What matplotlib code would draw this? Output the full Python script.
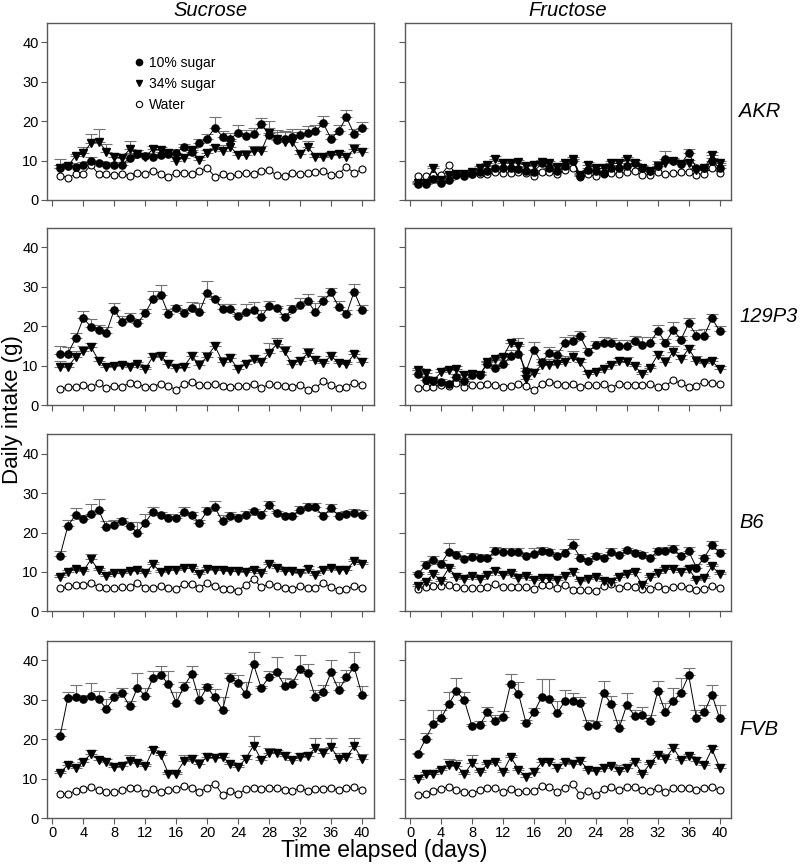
import matplotlib.pyplot as plt
from matplotlib.lines import Line2D

plt.rcParams['font.family'] = ['Liberation Sans', 'DejaVu Sans']

days = list(range(1, 41))
strains = ['AKR', '129P3', 'B6', 'FVB']
sugars = ['Sucrose', 'Fructose']
series_labels = ['10% sugar', '34% sugar', 'Water']
y_ticks = [0, 10, 20, 30, 40]
x_ticks = [0, 4, 8, 12, 16, 20, 24, 28, 32, 36, 40]

# ---- Sucrose / AKR
suc_akr_10 = [8.2, 8.5, 8.3, 8.8, 9.9, 9.3, 8.9, 8.9, 9.0, 10.6, 11.7, 11.2, 10.8, 11.4, 11.7, 12.0, 13.5, 12.1, 14.4, 15.6,
              18.3, 16.1, 15.5, 17.1, 16.3, 16.7, 19.3, 16.5, 15.2, 15.6, 16.1, 16.5, 17.1, 17.4, 19.5, 15.6, 17.5, 21.0, 16.7, 18.2]
suc_akr_10_err = [0.8, 0.8, 0.7, 0.8, 1.0, 0.6, 0.6, 0.8, 0.6, 1.2, 1.0, 0.8, 0.8, 0.8, 0.9, 0.9, 0.8, 1.2, 1.0, 1.2,
                  2.7, 1.4, 1.5, 1.9, 1.5, 1.5, 1.5, 1.8, 2.0, 1.8, 1.8, 1.6, 1.6, 1.6, 1.8, 1.2, 1.5, 1.8, 1.2, 1.5]
suc_akr_34 = [8.2, 8.5, 11.2, 11.8, 14.5, 14.8, 12.3, 11.0, 10.6, 12.9, 11.7, 11.0, 12.9, 12.7, 11.8, 10.0, 10.7, 12.7, 10.1, 11.8,
              13.2, 12.5, 13.5, 11.4, 11.4, 12.5, 12.4, 17.1, 15.5, 14.8, 14.8, 11.7, 13.5, 11.0, 10.8, 11.4, 11.7, 11.0, 12.9, 12.1]
suc_akr_34_err = [2.3, 0.8, 0.5, 1.7, 2.3, 3.3, 2.0, 1.0, 1.0, 2.0, 1.0, 1.0, 0.8, 0.8, 0.8, 0.8, 0.8, 0.8, 0.8, 0.8,
                  0.8, 1.5, 1.5, 0.8, 1.2, 1.2, 1.2, 3.0, 2.2, 2.5, 2.5, 1.0, 1.5, 0.6, 0.6, 0.8, 0.8, 0.8, 1.2, 1.2]
suc_akr_w = [6.2, 5.7, 6.5, 6.6, 8.9, 6.5, 6.5, 6.4, 6.6, 6.2, 6.9, 6.7, 7.4, 6.7, 5.9, 6.9, 6.9, 6.5, 7.3, 8.2,
             5.9, 6.5, 6.0, 6.5, 6.8, 6.7, 7.4, 7.6, 6.3, 6.2, 6.9, 6.5, 6.8, 7.2, 7.3, 6.3, 6.7, 8.4, 6.8, 7.8]

# ---- Fructose / AKR
fru_akr_10 = [4.1, 4.1, 5.3, 4.2, 5.1, 6.3, 6.2, 6.6, 7.2, 7.4, 8.0, 8.0, 8.0, 7.8, 7.4, 7.2, 9.3, 8.0, 7.4, 8.5,
              10.0, 6.1, 7.6, 7.4, 6.8, 8.0, 8.0, 8.7, 9.3, 8.2, 7.4, 8.7, 10.3, 9.9, 9.1, 12.0, 8.0, 8.0, 9.9, 8.2]
fru_akr_10_err = [0.4, 0.4, 0.5, 0.4, 0.5, 0.5, 0.5, 0.5, 0.5, 0.6, 0.6, 0.6, 0.6, 0.6, 0.5, 0.5, 0.8, 0.6, 0.5, 0.6,
                  0.5, 0.5, 0.6, 0.6, 0.5, 0.8, 0.6, 0.6, 0.8, 0.6, 0.5, 1.2, 2.2, 0.6, 0.6, 1.0, 0.6, 0.5, 0.8, 0.6]
fru_akr_34 = [4.4, 4.3, 8.0, 5.0, 6.3, 6.6, 6.6, 7.2, 8.0, 8.9, 10.3, 9.3, 9.5, 9.6, 8.6, 9.0, 9.6, 9.3, 8.3, 9.3,
              10.3, 6.3, 9.0, 8.0, 8.0, 9.3, 9.3, 10.3, 9.5, 8.0, 7.4, 8.5, 9.3, 10.0, 9.1, 9.5, 7.6, 8.0, 11.4, 9.3]
fru_akr_34_err = [0.3, 0.3, 0.6, 0.5, 0.5, 0.5, 0.5, 0.5, 0.5, 0.6, 0.8, 0.6, 0.6, 0.6, 0.6, 0.6, 0.6, 0.6, 0.5, 0.6,
                  0.6, 0.5, 0.6, 0.6, 0.6, 0.6, 0.6, 0.6, 0.6, 0.5, 0.5, 0.6, 0.6, 0.6, 0.6, 0.6, 0.5, 0.5, 0.8, 0.6]
fru_akr_w = [6.1, 6.0, 6.4, 6.3, 8.9, 6.4, 6.5, 6.5, 6.6, 6.5, 7.0, 6.8, 6.9, 7.2, 6.8, 6.0, 7.0, 7.0, 6.5, 7.5,
             8.2, 5.8, 6.5, 6.0, 6.5, 6.8, 6.5, 7.2, 7.3, 6.3, 6.3, 7.1, 6.5, 6.9, 7.1, 7.2, 6.4, 6.7, 8.1, 6.8]

# ---- Sucrose / 129P3
suc_129_10 = [13.0, 13.0, 16.9, 22.0, 19.9, 19.1, 18.4, 24.2, 21.2, 22.2, 20.8, 23.3, 26.9, 28.0, 23.1, 24.6, 23.3, 24.7, 23.6, 28.5,
              26.9, 24.4, 24.4, 22.6, 23.6, 24.2, 22.3, 25.2, 24.7, 22.3, 24.3, 25.4, 26.3, 23.6, 26.3, 28.6, 25.0, 23.1, 28.8, 24.1]
suc_129_10_err = [2.0, 1.7, 1.4, 1.8, 2.0, 1.2, 1.4, 1.8, 1.5, 1.2, 1.0, 1.0, 2.0, 2.4, 1.2, 0.8, 1.0, 1.4, 2.2, 3.0,
                  0.5, 1.2, 1.2, 0.5, 2.0, 2.0, 1.8, 1.2, 0.5, 0.8, 1.2, 1.8, 2.0, 2.2, 1.5, 1.0, 1.5, 1.0, 2.0, 1.2]
suc_129_34 = [9.7, 9.7, 12.1, 13.6, 14.8, 11.2, 9.7, 9.9, 10.2, 9.7, 10.4, 9.1, 12.3, 12.5, 10.4, 9.3, 9.7, 12.5, 10.2, 12.3,
              15.0, 11.0, 11.9, 9.1, 10.4, 11.6, 10.8, 13.3, 15.4, 13.6, 10.4, 11.3, 13.1, 11.4, 10.6, 12.5, 10.6, 10.4, 12.9, 11.0]
suc_129_34_err = [1.5, 1.0, 1.6, 1.5, 1.0, 1.0, 0.5, 0.5, 0.6, 0.8, 0.6, 0.5, 0.8, 1.0, 1.0, 1.2, 1.0, 1.0, 1.2, 1.2,
                  1.0, 1.2, 1.0, 1.0, 0.8, 1.0, 1.2, 2.5, 1.5, 1.5, 1.0, 1.0, 1.5, 1.0, 0.6, 1.0, 0.6, 0.6, 0.8, 1.0]
suc_129_w = [4.1, 4.5, 4.7, 5.1, 4.6, 5.5, 4.3, 4.9, 4.7, 5.5, 5.3, 4.7, 4.7, 5.4, 4.9, 3.8, 5.4, 5.8, 5.1, 5.0,
             5.4, 4.9, 4.6, 4.9, 4.8, 5.3, 4.3, 5.3, 5.1, 4.8, 4.7, 5.1, 3.9, 4.3, 6.1, 5.1, 4.3, 4.7, 5.6, 5.2]

# ---- Fructose / 129P3
fru_129_10 = [7.8, 6.4, 6.0, 5.8, 5.3, 7.0, 6.0, 7.7, 7.7, 10.5, 9.3, 10.3, 12.4, 13.0, 8.7, 14.0, 10.8, 13.3, 12.8, 15.8,
              16.3, 17.4, 13.5, 15.2, 15.8, 15.8, 15.1, 15.1, 16.3, 15.2, 15.8, 18.8, 15.8, 19.1, 16.6, 20.8, 17.6, 17.6, 22.0, 18.8]
fru_129_10_err = [1.0, 1.0, 0.6, 0.8, 0.8, 0.8, 0.6, 0.6, 0.6, 0.6, 0.8, 1.2, 1.5, 2.5, 0.8, 2.0, 1.0, 1.5, 1.2, 1.5,
                  1.5, 1.5, 1.0, 1.0, 1.5, 1.2, 1.5, 1.5, 1.2, 2.0, 1.5, 1.5, 1.0, 2.0, 1.0, 1.2, 1.5, 1.8, 1.2, 1.2]
fru_129_34 = [8.9, 8.1, 6.2, 8.3, 8.9, 9.1, 7.5, 7.9, 7.5, 10.8, 11.6, 12.2, 15.8, 15.0, 6.7, 8.2, 10.2, 10.2, 10.5, 11.0,
              12.1, 10.8, 7.9, 8.5, 9.1, 10.2, 11.2, 10.8, 9.9, 7.9, 9.5, 12.7, 10.8, 13.5, 11.6, 14.3, 11.2, 10.6, 11.2, 9.1]
fru_129_34_err = [0.5, 0.8, 0.5, 0.8, 0.8, 0.8, 0.5, 0.5, 0.5, 0.5, 0.5, 0.8, 0.8, 2.0, 1.0, 1.0, 1.5, 1.5, 2.0, 1.5,
                  1.5, 1.0, 0.8, 0.5, 0.5, 0.5, 0.8, 1.5, 0.5, 0.5, 0.5, 1.0, 1.5, 1.5, 1.0, 1.0, 1.2, 0.8, 0.8, 0.8]
fru_129_w = [4.3, 4.7, 4.6, 5.2, 4.8, 5.6, 4.6, 5.0, 5.0, 5.4, 5.1, 4.7, 4.9, 5.4, 4.8, 3.8, 5.3, 5.9, 5.3, 5.2,
             5.3, 4.7, 5.0, 5.0, 5.3, 4.4, 5.4, 5.2, 5.2, 5.1, 5.3, 4.5, 4.9, 6.3, 5.5, 4.6, 4.9, 5.9, 5.6, 5.3]

# ---- Sucrose / B6
suc_b6_10 = [14.1, 21.6, 24.5, 23.4, 24.8, 25.6, 21.3, 22.0, 23.0, 21.7, 20.0, 22.5, 25.3, 24.5, 23.8, 23.6, 25.3, 24.5, 22.5, 25.4,
             26.4, 22.8, 24.1, 23.8, 24.5, 25.4, 24.5, 27.0, 24.9, 24.3, 24.3, 25.8, 26.4, 26.4, 24.1, 26.2, 24.3, 24.7, 24.9, 24.5]
suc_b6_10_err = [1.2, 1.5, 1.8, 1.0, 2.5, 3.0, 1.5, 1.3, 0.8, 1.0, 2.7, 2.3, 1.2, 0.8, 0.8, 0.6, 1.2, 0.8, 0.6, 1.0,
                 1.6, 1.6, 1.0, 0.8, 1.0, 0.6, 1.0, 1.0, 0.6, 0.6, 0.6, 1.0, 1.0, 1.0, 1.0, 1.0, 0.8, 0.8, 1.0, 1.2]
suc_b6_34 = [8.6, 10.0, 10.7, 10.2, 13.2, 10.4, 8.9, 9.7, 9.7, 10.2, 10.4, 9.7, 11.9, 10.0, 10.4, 10.6, 10.9, 11.0, 9.4, 10.8,
             10.6, 10.4, 10.2, 10.2, 10.0, 10.5, 9.8, 12.0, 11.0, 10.2, 10.2, 9.6, 10.8, 9.1, 10.6, 10.9, 10.6, 10.6, 12.7, 12.1]
suc_b6_34_err = [0.6, 0.5, 0.5, 0.5, 1.4, 0.6, 0.5, 0.5, 0.5, 0.5, 0.5, 0.5, 0.6, 0.5, 0.5, 0.5, 0.6, 0.6, 0.5, 0.5,
                 0.5, 0.5, 0.5, 0.5, 0.5, 0.8, 0.5, 0.6, 0.5, 0.5, 0.6, 0.5, 0.6, 0.5, 0.6, 0.6, 0.6, 1.0, 0.5, 0.5]
suc_b6_w = [5.8, 6.3, 6.6, 6.7, 7.1, 6.2, 6.0, 5.8, 6.1, 6.1, 7.3, 6.0, 6.0, 6.3, 5.9, 5.7, 6.9, 7.0, 6.0, 7.1,
            6.4, 5.7, 5.6, 5.2, 6.8, 8.2, 6.1, 7.0, 6.5, 5.9, 5.7, 6.4, 6.0, 6.0, 7.1, 6.2, 5.5, 5.6, 6.5, 5.8]

# ---- Fructose / B6
fru_b6_10 = [9.4, 11.7, 13.0, 12.1, 15.1, 14.4, 13.2, 13.8, 13.6, 13.6, 15.2, 15.1, 15.1, 15.1, 14.1, 14.5, 15.3, 15.1, 14.0, 14.9,
             16.9, 13.6, 12.7, 14.1, 13.6, 15.1, 14.2, 15.5, 14.8, 14.4, 13.6, 15.2, 15.2, 15.8, 14.1, 15.2, 11.1, 13.6, 16.8, 14.9]
fru_b6_10_err = [0.5, 1.0, 1.0, 1.0, 2.2, 1.0, 0.8, 1.0, 1.0, 0.8, 1.0, 1.0, 1.0, 1.0, 0.8, 1.5, 1.0, 0.8, 0.6, 0.8,
                 1.5, 1.0, 0.6, 0.6, 0.6, 1.0, 0.6, 0.6, 0.8, 0.6, 0.6, 0.8, 1.0, 1.0, 0.8, 1.2, 1.0, 0.8, 1.0, 1.0]
fru_b6_34 = [6.5, 7.5, 9.5, 7.8, 10.9, 8.8, 8.1, 9.0, 8.2, 9.2, 10.3, 9.1, 9.7, 8.4, 9.0, 8.0, 8.4, 8.4, 8.0, 9.0,
             10.1, 7.7, 8.1, 8.8, 7.7, 7.5, 8.8, 9.5, 10.1, 6.7, 8.8, 9.7, 10.7, 10.7, 10.1, 10.8, 8.0, 8.4, 11.4, 9.5]
fru_b6_34_err = [0.4, 0.5, 0.6, 0.5, 0.6, 0.8, 0.5, 0.5, 0.5, 0.5, 0.6, 0.8, 0.6, 0.5, 0.5, 0.5, 0.5, 0.6, 0.5, 0.5,
                 0.6, 0.5, 0.5, 0.5, 0.5, 0.5, 0.5, 0.5, 0.6, 0.5, 0.5, 0.6, 0.6, 1.0, 0.6, 0.6, 0.5, 0.5, 0.6, 0.5]
fru_b6_w = [5.6, 6.2, 6.4, 6.4, 6.8, 6.1, 5.9, 5.9, 5.9, 6.1, 6.9, 6.1, 6.1, 6.1, 6.1, 5.7, 6.6, 6.6, 5.8, 6.8,
            5.5, 5.3, 5.5, 5.2, 6.4, 7.0, 6.0, 6.5, 6.1, 5.7, 5.7, 6.3, 5.7, 6.1, 6.5, 6.0, 5.4, 5.6, 6.5, 5.8]

# ---- Sucrose / FVB
suc_fvb_10 = [20.8, 30.4, 30.6, 30.3, 31.1, 30.1, 27.8, 30.6, 31.7, 28.4, 33.1, 31.0, 35.5, 36.3, 34.0, 29.3, 33.3, 36.6, 29.9, 33.2,
              30.6, 27.4, 35.6, 34.3, 31.4, 39.0, 33.0, 35.8, 37.0, 33.6, 34.1, 37.8, 36.8, 30.6, 31.9, 37.0, 32.5, 35.7, 38.3, 31.3]
suc_fvb_10_err = [1.8, 1.5, 3.2, 1.0, 3.2, 2.2, 2.3, 1.5, 1.2, 1.3, 3.8, 2.0, 1.8, 2.2, 3.3, 2.6, 1.3, 2.0, 2.8, 0.9,
                  2.2, 3.2, 1.3, 2.0, 3.2, 3.2, 0.6, 1.5, 3.8, 2.0, 1.3, 3.5, 2.2, 2.0, 1.8, 3.2, 2.0, 2.0, 3.8, 2.3]
suc_fvb_34 = [11.4, 13.5, 12.7, 14.3, 16.3, 14.8, 14.2, 12.9, 13.1, 14.6, 14.0, 13.1, 17.3, 15.9, 11.3, 11.3, 14.4, 14.9, 13.8, 15.5,
              15.2, 15.4, 13.8, 12.9, 15.1, 18.4, 14.8, 16.5, 16.6, 15.8, 14.8, 15.5, 15.8, 17.8, 16.4, 18.0, 15.1, 15.5, 18.2, 15.0]
suc_fvb_34_err = [0.5, 0.8, 0.5, 0.8, 1.0, 0.6, 0.8, 0.5, 0.8, 1.5, 0.8, 0.5, 0.8, 0.5, 0.5, 0.5, 1.6, 1.0, 1.2, 1.0,
                  1.0, 1.0, 0.5, 0.5, 1.0, 2.4, 0.6, 1.3, 0.6, 1.0, 0.5, 1.0, 1.0, 2.5, 1.5, 2.2, 1.4, 1.0, 2.0, 1.2]
suc_fvb_w = [6.0, 6.2, 6.8, 7.3, 7.8, 7.0, 6.6, 6.5, 7.1, 7.6, 7.6, 6.4, 7.3, 6.7, 7.0, 7.3, 8.2, 7.7, 6.7, 7.7,
             8.7, 5.9, 6.8, 6.1, 7.3, 7.7, 7.3, 7.7, 7.7, 7.0, 6.8, 7.7, 6.8, 7.3, 7.4, 7.7, 7.0, 7.5, 7.8, 7.0]

# ---- Fructose / FVB
fru_fvb_10 = [16.2, 20.0, 23.9, 25.3, 28.9, 32.2, 29.9, 23.4, 23.6, 26.8, 24.6, 25.7, 34.1, 31.6, 24.0, 26.8, 30.7, 30.2, 26.6, 29.7,
              29.7, 29.1, 23.4, 23.6, 31.8, 28.9, 22.8, 28.7, 26.0, 26.1, 24.6, 32.2, 26.8, 29.7, 31.8, 36.2, 25.3, 26.8, 31.3, 25.3]
fru_fvb_10_err = [0.3, 1.5, 3.6, 2.2, 3.0, 3.3, 2.2, 0.5, 1.0, 1.5, 1.5, 1.5, 2.5, 3.0, 1.0, 1.2, 4.5, 5.0, 3.0, 2.7,
                  2.0, 1.5, 1.5, 1.0, 3.0, 2.0, 2.0, 3.0, 1.5, 2.0, 1.5, 2.5, 2.3, 3.3, 3.8, 2.0, 2.0, 2.0, 2.5, 3.4]
fru_fvb_34 = [10.0, 11.1, 11.1, 12.1, 13.4, 13.3, 11.2, 13.9, 11.7, 13.6, 14.3, 11.7, 15.5, 12.3, 10.3, 11.7, 14.1, 14.1, 12.8, 14.1,
              13.8, 14.6, 12.1, 11.9, 12.8, 13.3, 11.9, 12.8, 14.3, 11.2, 13.8, 16.1, 15.1, 17.8, 14.8, 15.8, 14.6, 13.4, 17.5, 12.8]
fru_fvb_34_err = [0.3, 0.5, 0.5, 0.5, 1.5, 1.5, 0.5, 2.0, 0.5, 0.5, 0.5, 0.5, 0.5, 0.5, 1.0, 1.0, 1.0, 1.0, 0.8, 0.8,
                  0.8, 0.8, 0.5, 0.5, 0.8, 0.5, 1.5, 0.8, 0.5, 0.5, 0.5, 0.5, 1.2, 1.0, 0.5, 0.5, 0.8, 0.5, 0.8, 0.8]
fru_fvb_w = [5.9, 6.1, 6.8, 7.4, 8.0, 7.1, 6.5, 6.3, 7.0, 7.6, 7.7, 6.6, 7.4, 6.6, 6.9, 6.8, 8.2, 7.9, 6.6, 7.6,
             8.6, 5.9, 6.8, 5.9, 7.3, 7.8, 7.0, 7.9, 8.0, 7.1, 6.8, 7.7, 6.6, 7.5, 7.5, 7.7, 7.1, 7.5, 8.0, 7.0]

panels = {
    ('Sucrose', 'AKR'): (suc_akr_10, suc_akr_10_err, suc_akr_34, suc_akr_34_err, suc_akr_w),
    ('Fructose', 'AKR'): (fru_akr_10, fru_akr_10_err, fru_akr_34, fru_akr_34_err, fru_akr_w),
    ('Sucrose', '129P3'): (suc_129_10, suc_129_10_err, suc_129_34, suc_129_34_err, suc_129_w),
    ('Fructose', '129P3'): (fru_129_10, fru_129_10_err, fru_129_34, fru_129_34_err, fru_129_w),
    ('Sucrose', 'B6'): (suc_b6_10, suc_b6_10_err, suc_b6_34, suc_b6_34_err, suc_b6_w),
    ('Fructose', 'B6'): (fru_b6_10, fru_b6_10_err, fru_b6_34, fru_b6_34_err, fru_b6_w),
    ('Sucrose', 'FVB'): (suc_fvb_10, suc_fvb_10_err, suc_fvb_34, suc_fvb_34_err, suc_fvb_w),
    ('Fructose', 'FVB'): (fru_fvb_10, fru_fvb_10_err, fru_fvb_34, fru_fvb_34_err, fru_fvb_w),
}

fig = plt.figure(figsize=(8, 8.66), dpi=100)

col_left = [0.0586, 0.5058]
ax_w = 0.4083
row_bottom = [0.7691, 0.5323, 0.2941, 0.0554]
ax_h = 0.2047
frame_col = '0.35'
err_col = '0.45'

ms_fill, ms_tri, ms_open = 5.2, 5.4, 5.0

for r, strain in enumerate(strains):
    for c, sugar in enumerate(sugars):
        ax = fig.add_axes([col_left[c], row_bottom[r], ax_w, ax_h])
        s10, e10, s34, e34, water = panels[(sugar, strain)]

        # one-sided (upper) error bars, drawn under the markers
        ax.errorbar(days, s34, yerr=[[0] * len(e34), e34], fmt='none', ecolor=err_col,
                    elinewidth=0.8, capsize=4, capthick=0.8, zorder=1)
        ax.errorbar(days, s10, yerr=[[0] * len(e10), e10], fmt='none', ecolor=err_col,
                    elinewidth=0.8, capsize=4, capthick=0.8, zorder=1)

        ax.plot(days, water, color='black', lw=0.7, marker='o', ms=ms_open,
                mfc='white', mec='black', mew=0.8, zorder=2)
        ax.plot(days, s34, color='black', lw=0.7, marker='v', ms=ms_tri, zorder=3)
        ax.plot(days, s10, color='black', lw=0.7, marker='o', ms=ms_fill, zorder=4)

        ax.set_xlim(-0.7, 41.5)
        ax.set_ylim(0, 45)
        ax.set_xticks(x_ticks)
        ax.set_yticks(y_ticks)
        for sp in ax.spines.values():
            sp.set_color(frame_col)
            sp.set_linewidth(1.0)
        ax.tick_params(direction='out', length=4, width=0.8, color=frame_col,
                       labelsize=10.5, pad=2)
        if c == 1:
            ax.tick_params(axis='y', labelleft=False)
        if r < 3:
            ax.tick_params(axis='x', labelbottom=False)
        if r == 0:
            ax.set_title(sugar, fontsize=14.5, style='italic', pad=5)
        if c == 1:
            ax.text(1.025, 0.5, strain, transform=ax.transAxes, fontsize=14.5,
                    style='italic', ha='left', va='center')

        if r == 0 and c == 0:
            handles = [
                Line2D([], [], marker='o', ls='', color='black', ms=4.5),
                Line2D([], [], marker='v', ls='', color='black', ms=4.8),
                Line2D([], [], marker='o', ls='', mfc='white', mec='black', mew=0.8, ms=4.5),
            ]
            ax.legend(handles, series_labels, loc='upper left', bbox_to_anchor=(0.265, 0.813),
                      frameon=False, fontsize=10, handlelength=0.8, handletextpad=0.3,
                      labelspacing=0.5, borderpad=0, borderaxespad=0)

fig.text(0.016, 0.527, 'Daily intake (g)', rotation=90, fontsize=16, ha='center', va='center')
fig.text(0.48, 0.018, 'Time elapsed (days)', fontsize=16.5, ha='center', va='center')

fig.savefig('out.png', dpi=100)
